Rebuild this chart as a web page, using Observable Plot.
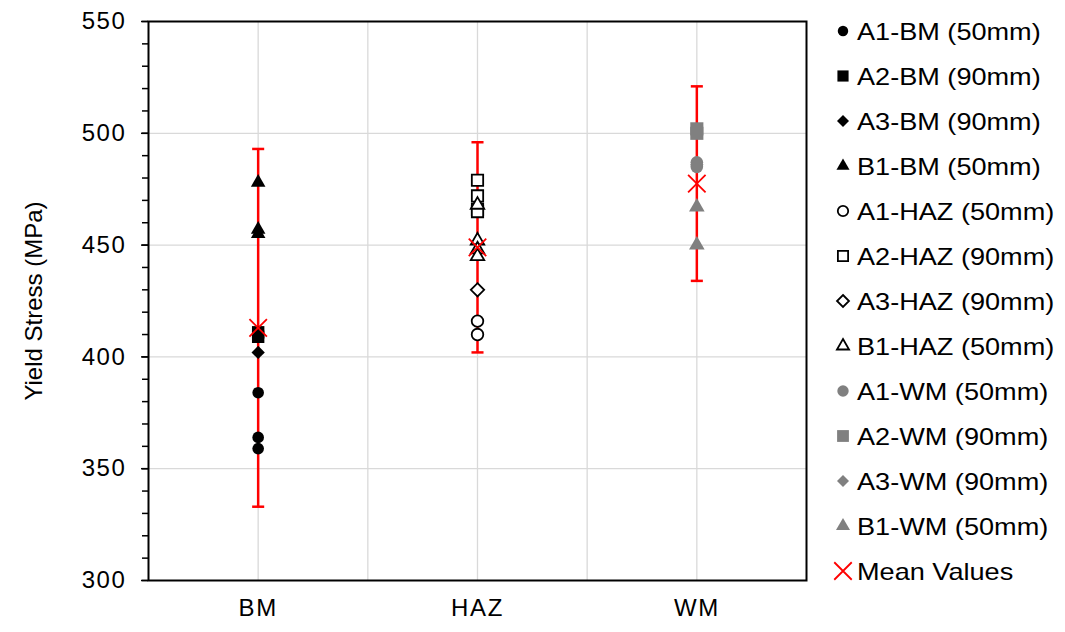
<!DOCTYPE html>
<html><head><meta charset="utf-8">
<script src="https://cdn.jsdelivr.net/npm/d3@7"></script>
<script src="https://cdn.jsdelivr.net/npm/@observablehq/plot@0.6"></script>
<style>
body{margin:0;background:#fff;}
#wrap{position:relative;width:1065px;height:632px;font-family:"Liberation Sans",Arial,sans-serif;}
#legend{position:absolute;left:0;top:0;pointer-events:none;}
#wrap g[aria-label$="tick label"] text{letter-spacing:1.6px;}
</style>
</head><body><div id="wrap"></div>
<script>
const categories = ["BM", "HAZ", "WM"];
const seriesNames = ["A1-BM (50mm)","A2-BM (90mm)","A3-BM (90mm)","B1-BM (50mm)",
  "A1-HAZ (50mm)","A2-HAZ (90mm)","A3-HAZ (90mm)","B1-HAZ (50mm)",
  "A1-WM (50mm)","A2-WM (90mm)","A3-WM (90mm)","B1-WM (50mm)"];
const seriesCategory = ["BM","BM","BM","BM","HAZ","HAZ","HAZ","HAZ","WM","WM","WM","WM"];
const a1BM = [384, 364, 359];
const a2BM = [411, 409];
const a3BM = [402];
const b1BM = [478, 457, 455];
const a1HAZ = [416, 410];
const a2HAZ = [479, 472, 466, 465];
const a3HAZ = [430];
const b1HAZ = [468, 452, 448, 445];
const a1WM = [487, 485];
const a2WM = [502, 500];
const a3WM = [486];
const b1WM = [467, 450];
const meanValues = [413, 449, 477.5];
const errorLow = [333, 402, 434];
const errorHigh = [493, 496, 521];
const yMajorTicks = [300, 350, 400, 450, 500, 550];
const meanLabel = "Mean Values";
const yTitle = "Yield Stress (MPa)";

const seriesValues = [a1BM,a2BM,a3BM,b1BM,a1HAZ,a2HAZ,a3HAZ,b1HAZ,a1WM,a2WM,a3WM,b1WM];

// styles (separate from data)
const GRAY = "#808080";
const styles = [
  {symbol:"circle", fill:"black", stroke:"none", r:5.8},
  {symbol:"square", fill:"black", stroke:"none", r:7},
  {symbol:"diamond2", fill:"black", stroke:"none", r:6},
  {symbol:"triangle", fill:"black", stroke:"none", r:5.4},
  {symbol:"circle", fill:"white", stroke:"black", r:5.8},
  {symbol:"square", fill:"white", stroke:"black", r:6.4},
  {symbol:"diamond2", fill:"white", stroke:"black", r:6},
  {symbol:"triangle", fill:"white", stroke:"black", r:5.0},
  {symbol:"circle", fill:GRAY, stroke:"none", r:6.3},
  {symbol:"square", fill:GRAY, stroke:"none", r:7.4},
  {symbol:"diamond2", fill:GRAY, stroke:"none", r:6},
  {symbol:"triangle", fill:GRAY, stroke:"none", r:5.8}
];

const xOf = c => categories.indexOf(c) + 0.5;
const errRows = categories.map((c, i) => ({x: xOf(c), lo: errorLow[i], hi: errorHigh[i], mean: meanValues[i]}));

const capSymbol = {draw(ctx, size) { const w = Math.sqrt(size) / 2; ctx.moveTo(-w, 0); ctx.lineTo(w, 0); }};

const seriesMarks = seriesValues.map((vals, i) => {
  const st = styles[i];
  const rows = vals.map(v => ({x: xOf(seriesCategory[i]), y: v}));
  return Plot.dot(rows, {x: "x", y: "y", symbol: st.symbol, r: st.r, fill: st.fill,
    stroke: st.stroke, strokeWidth: st.stroke === "none" ? 0 : 1.8});
});

const chart = Plot.plot({
  width: 1065, height: 632,
  marginLeft: 148, marginRight: 259, marginTop: 21, marginBottom: 52,
  style: {fontFamily: '"Liberation Sans", Arial, sans-serif', fontSize: "24px", color: "black", background: "white"},
  x: {domain: [0, 3]},
  y: {domain: [300, 550]},
  marks: [
    Plot.gridX([0.5, 1, 1.5, 2, 2.5], {stroke: "#d9d9d9", strokeOpacity: 1, strokeWidth: 1.3}),
    Plot.gridY([350, 400, 450, 500], {stroke: "#d9d9d9", strokeOpacity: 1, strokeWidth: 1.3}),
    Plot.axisY(d3.range(300, 551, 10), {tickSize: 6, tickFormat: () => "", stroke: "black", strokeWidth: 1.5, label: null}),
    Plot.axisY(yMajorTicks, {tickSize: 7, tickPadding: 15, fontSize: 24, stroke: "black", strokeWidth: 1.5,
      label: yTitle, labelAnchor: "center", labelOffset: 124, labelArrow: "none"}),
    Plot.axisX(categories.map(xOf), {tickSize: 0, tickPadding: 18, fontSize: 24,
      tickFormat: v => categories[Math.floor(v)], label: null}),
    Plot.ruleX(errRows, {x: "x", y1: "lo", y2: "hi", stroke: "red", strokeWidth: 2.5}),
    Plot.dot(errRows, {x: "x", y: "lo", symbol: capSymbol, r: 6.8, stroke: "red", strokeWidth: 2.5}),
    Plot.dot(errRows, {x: "x", y: "hi", symbol: capSymbol, r: 6.8, stroke: "red", strokeWidth: 2.5}),
    ...seriesMarks,
    Plot.dot(errRows, {x: "x", y: "mean", symbol: "times", r: 8, stroke: "red", strokeWidth: 1.8}),
    Plot.frame({stroke: "black", strokeWidth: 2})
  ]
});

const wrap = document.getElementById("wrap");
wrap.appendChild(chart);

// Legend
const leg = d3.select(wrap).append("svg").attr("id", "legend").attr("width", 1065).attr("height", 632);
const legendItems = seriesNames.map((n, i) => ({name: n, st: styles[i]}));
legendItems.push({name: meanLabel, st: {symbol: "times", fill: "none", stroke: "red", r: 8}});
const symMap = {circle: d3.symbolCircle, square: d3.symbolSquare, diamond2: d3.symbolDiamond2, triangle: d3.symbolTriangle, times: d3.symbolTimes};
legendItems.forEach((it, i) => {
  const y = 31 + i * 45;
  const rr = it.st.symbol === "times" ? it.st.r : it.st.r * 0.9;
  leg.append("path")
    .attr("transform", `translate(843,${y})`)
    .attr("d", d3.symbol(symMap[it.st.symbol], Math.PI * rr * rr)())
    .attr("fill", it.st.fill)
    .attr("stroke", it.st.stroke)
    .attr("stroke-width", it.st.stroke === "none" ? 0 : 1.8);
  leg.append("text")
    .attr("transform", `translate(857,${y}) scale(1.13,1)`)
    .attr("dy", "0.36em")
    .attr("font-family", '"Liberation Sans", Arial, sans-serif')
    .attr("font-size", 24)
    .attr("fill", "black")
    .text(it.name);
});
</script>
</body></html>
